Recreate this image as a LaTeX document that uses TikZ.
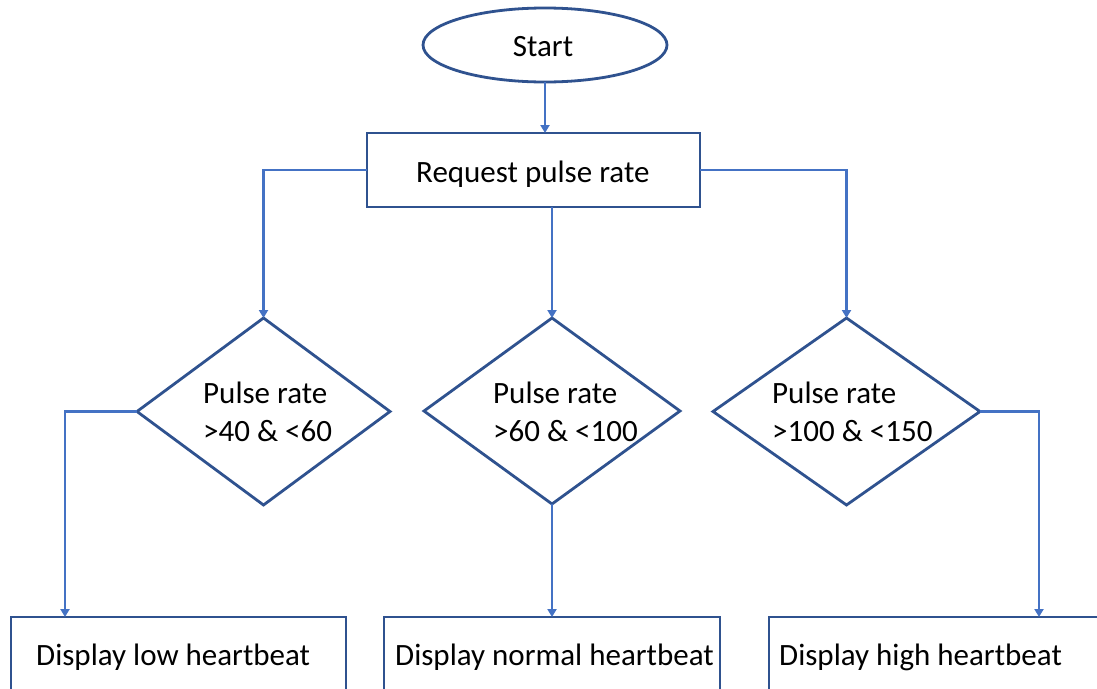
\documentclass[tikz,border=0pt]{standalone}
\usepackage{fontspec}
\setmainfont{Carlito}
\usetikzlibrary{shapes.geometric,arrows.meta,calc}
\definecolor{edgeblue}{HTML}{2F528F}
\definecolor{linkblue}{HTML}{4472C4}
\tikzset{
  shapebox/.style={draw=edgeblue, line width=2.8pt, fill=white, inner sep=0pt, outer sep=0pt},
  rectbox/.style={shapebox, rectangle},
  decbox/.style={shapebox, diamond},
  termbox/.style={shapebox, ellipse},
  label/.style={font=\fontsize{31}{38}\selectfont, inner sep=0pt, text=black},
  link/.style={draw=linkblue, line width=2.4pt, -{Triangle[width=9pt,length=8pt]}}
}
\begin{document}
\begin{tikzpicture}[x=1pt,y=-1pt]
\clip (0,0) rectangle (1097,688);
\fill[white] (0,0) rectangle (1097,688);
% shapes
\node[termbox, minimum width=244pt, minimum height=74pt] (start) at (545,45) {};
\node[rectbox, minimum width=333pt, minimum height=74pt] (req) at (533.5,170) {};
\node[decbox, minimum width=253pt, minimum height=187pt] (d1) at (263.5,411.5) {};
\node[decbox, minimum width=256pt, minimum height=186pt] (d2) at (552,411) {};
\node[decbox, minimum width=267pt, minimum height=187pt] (d3) at (846.5,411.5) {};
\node[rectbox, minimum width=335pt, minimum height=110pt] (b1) at (178.5,672) {};
\node[rectbox, minimum width=336pt, minimum height=110pt] (b2) at (552,672) {};
\node[rectbox, minimum width=360pt, minimum height=110pt] (b3) at (949,672) {};
% texts
\node[label, anchor=base] (tstart) at (543,56) {Start};
\node[label, anchor=base west] (treq) at (416,182) {Request pulse rate};
\node[label, anchor=west, align=left] (td1) at (203,412) {Pulse rate\\>40 \& <60};
\node[label, anchor=west, align=left] (td2) at (493,412) {Pulse rate\\>60 \& <100};
\node[label, anchor=west, align=left] (td3) at (772,412) {Pulse rate\\>100 \& <150};
\node[label, anchor=base west] (tb1) at (36,665) {Display low heartbeat};
\node[label, anchor=base west] (tb2) at (395,665) {Display normal heartbeat};
\node[label, anchor=base west] (tb3) at (779,665) {Display high heartbeat};
% connectors
\draw[link] (start.south) -- (start.south |- req.north);
\draw[link] (req.west) -| (d1.north);
\draw[link] (d2.north |- req.south) -- (d2.north);
\draw[link] (req.east) -| (d3.north);
\draw[link] (d1.west) -| ([xshift=54pt]b1.north west);
\draw[link] (d2.south) -- (d2.south |- b2.north);
\draw[link] (d3.east) -| ([xshift=270pt]b3.north west);
\end{tikzpicture}
\end{document}
